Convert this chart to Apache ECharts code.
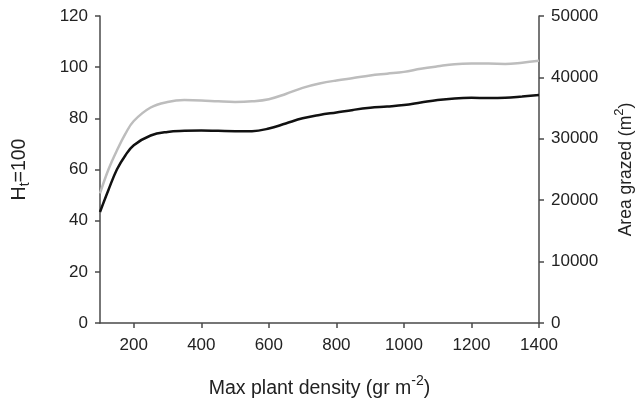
<!DOCTYPE html>
<html>
<head>
<meta charset="utf-8">
<script src="https://cdn.jsdelivr.net/npm/echarts@6/dist/echarts.min.js"></script>
<style>
html,body{margin:0;padding:0;background:#fff;}
#chart{width:637px;height:405px;}
</style>
</head>
<body>
<div id="chart"></div>
<script>
// Max plant density (gr m-2)
const density = [100,125,150,175,200,250,300,350,400,450,500,550,600,650,700,750,800,850,900,950,1000,1050,1100,1150,1200,1250,1300,1350,1400];
// H t=100 (left axis, black)
const htValues = [43.4,52,60,65.5,69.5,73.3,74.7,75.1,75.2,75.1,75,75,76,78,80,81.3,82.3,83.3,84.1,84.6,85.2,86.2,87.2,87.8,88,87.9,88,88.5,89.1];
// Area grazed m2 (right axis, grey)
const areaValues = [21100,25000,28100,30800,32900,35100,36000,36300,36250,36100,36000,36100,36450,37300,38300,39000,39500,39900,40300,40600,40900,41400,41800,42150,42250,42250,42200,42400,42700];
const xTicks = [200,400,600,800,1000,1200,1400];

const chart = echarts.init(document.getElementById('chart'), null, {renderer:'canvas'});
const fontFamily = 'Liberation Sans, Arial, sans-serif';
const axisColor = '#4a4a4a';
const plain = v => String(v);
chart.setOption({
  animation:false,
  backgroundColor:'#fff',
  grid:{left:100,right:98,top:16,bottom:82,containLabel:false,outerBoundsMode:'none'},
  xAxis:{
    type:'value',min:100,max:1400,interval:100,
    axisLine:{lineStyle:{color:axisColor,width:1.5}},
    axisTick:{show:true,length:5,customValues:xTicks,lineStyle:{color:axisColor,width:1.5}},
    axisLabel:{customValues:xTicks,formatter:plain,color:'#222',fontSize:17,fontFamily:fontFamily,margin:14},
    splitLine:{show:false},
    name:'Max plant density (gr m{sup|-2})',
    nameLocation:'middle',nameGap:51,
    nameTextStyle:{color:'#222',fontSize:19.5,fontFamily:fontFamily,
      rich:{sup:{fontSize:14,verticalAlign:'top',padding:[0,0,15,0],color:'#222',fontFamily:fontFamily}}}
  },
  yAxis:[{
    type:'value',min:0,max:120,interval:20,position:'left',
    axisLine:{show:true,lineStyle:{color:axisColor,width:1.5}},
    axisTick:{show:true,length:5,lineStyle:{color:axisColor,width:1.5}},
    axisLabel:{formatter:plain,color:'#222',fontSize:17,fontFamily:fontFamily,margin:12},
    splitLine:{show:false},
    name:'H{sub|t}=100',nameLocation:'middle',nameGap:68,nameRotate:90,
    nameTextStyle:{color:'#222',fontSize:19.5,fontFamily:fontFamily,
      rich:{sub:{fontSize:14,verticalAlign:'bottom',padding:[10,0,0,0],color:'#222',fontFamily:fontFamily}}}
  },{
    type:'value',min:0,max:50000,interval:10000,position:'right',
    axisLine:{show:true,lineStyle:{color:axisColor,width:1.5}},
    axisTick:{show:true,length:5,lineStyle:{color:axisColor,width:1.5}},
    axisLabel:{formatter:plain,color:'#222',fontSize:17,fontFamily:fontFamily,margin:12},
    splitLine:{show:false},
    name:'Area grazed (m{sup|2})',nameLocation:'middle',nameGap:74,nameRotate:90,
    nameTextStyle:{color:'#222',fontSize:17.5,fontFamily:fontFamily,
      rich:{sup:{fontSize:13,verticalAlign:'top',padding:[0,0,13,0],color:'#222',fontFamily:fontFamily}}}
  }],
  series:[{
    type:'line',yAxisIndex:1,smooth:0.4,showSymbol:false,
    data:density.map((d,i)=>[d,areaValues[i]]),
    lineStyle:{color:'#bdbdbd',width:2.5}
  },{
    type:'line',yAxisIndex:0,smooth:0.4,showSymbol:false,
    data:density.map((d,i)=>[d,htValues[i]]),
    lineStyle:{color:'#111',width:2.5}
  }]
});
</script>
</body>
</html>
